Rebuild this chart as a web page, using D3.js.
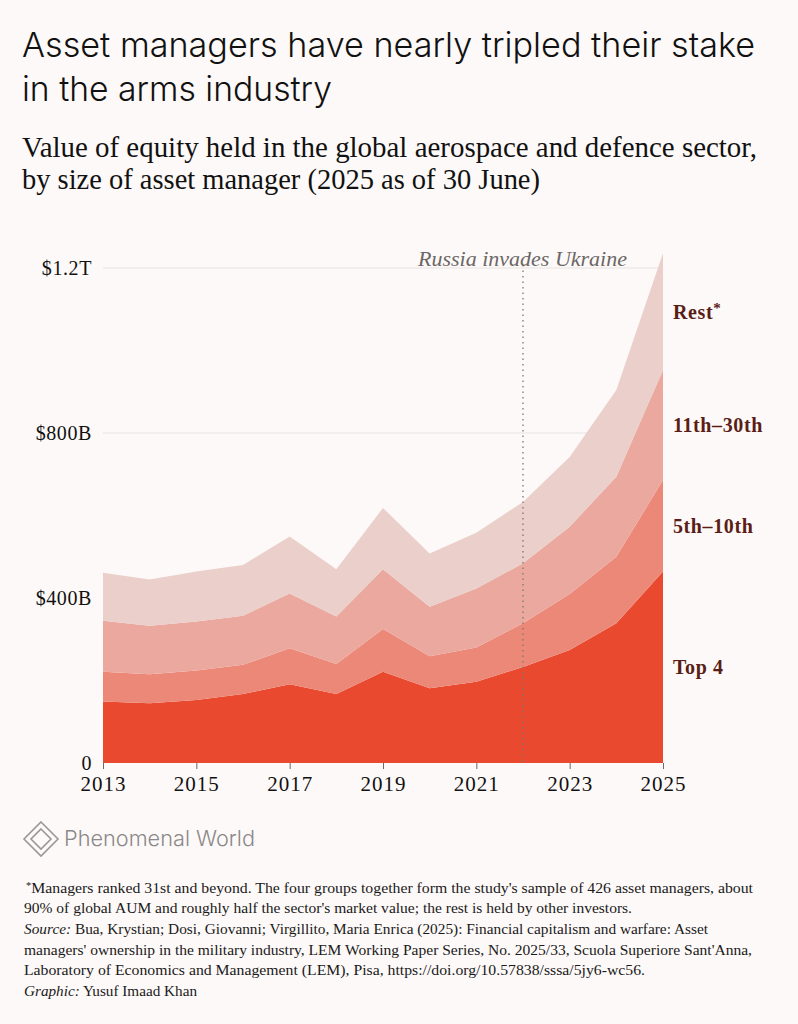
<!DOCTYPE html>
<html>
<head>
<meta charset="utf-8">
<script src="https://cdn.jsdelivr.net/npm/d3@7"></script>
<style>
  html, body { margin: 0; padding: 0; background: #FDF9F8; }
  svg { display: block; }
</style>
</head>
<body>
<svg id="chart" width="798" height="1024"></svg>
<script>
// ---------- DATA ----------
const years = [2013, 2014, 2015, 2016, 2017, 2018, 2019, 2020, 2021, 2022, 2023, 2024, 2025];
const top4 =        [149, 145, 153, 167, 191, 167, 221, 181, 197, 233, 274, 339, 464];
const fifthTenth =  [72, 70, 71, 71, 87, 73, 104, 78, 83, 106, 136, 161, 222];
const eleventhThirtieth = [124, 118, 119, 119, 133, 115, 145, 120, 143, 145, 163, 194, 267];
const rest =        [116, 112, 121, 123, 138, 115, 148, 129, 135, 149, 169, 210, 283];
const seriesKeys = ["top4", "fifthTenth", "eleventhThirtieth", "rest"];
const seriesLabels = ["Top 4", "5th\u201310th", "11th\u201330th", "Rest"];
const seriesColors = ["#E94A2F", "#EC8878", "#EBA89F", "#EACFCA"];
const yTicks = [0, 400, 800, 1200];
const yTickLabels = ["0", "$400B", "$800B", "$1.2T"];
const xTicks = [2013, 2015, 2017, 2019, 2021, 2023, 2025];
const eventYear = 2022;
const eventLabel = "Russia invades Ukraine";

// ---------- SETUP ----------
const svg = d3.select("#chart");
const serif = "'Liberation Serif', 'DejaVu Serif', serif";
const sans = "Inter, 'Noto Sans', sans-serif";

svg.append("rect").attr("width", 798).attr("height", 1024).attr("fill", "#FDF9F8");

// Title
const titleLines = ["Asset managers have nearly tripled their stake", "in the arms industry"];
const titleBase = [57, 101];
const titleWidths = [733, 310];
titleLines.forEach((t, i) => {
  svg.append("text").attr("x", 22).attr("y", titleBase[i])
    .attr("font-family", sans).attr("font-weight", 300).attr("font-size", 34)
    .attr("fill", "#111")
    .attr("textLength", titleWidths[i]).attr("lengthAdjust", "spacingAndGlyphs")
    .text(t);
});

// Subtitle
const subLines = ["Value of equity held in the global aerospace and defence sector,", "by size of asset manager (2025 as of 30 June)"];
const subBase = [157, 189];
const subWidths = [735, 518];
subLines.forEach((t, i) => {
  svg.append("text").attr("x", 22).attr("y", subBase[i])
    .attr("font-family", serif).attr("font-size", 29)
    .attr("fill", "#111")
    .attr("textLength", subWidths[i]).attr("lengthAdjust", "spacingAndGlyphs")
    .text(t);
});

// ---------- CHART ----------
const x = d3.scaleLinear().domain([2013, 2025]).range([103, 663]);
const y = d3.scaleLinear().domain([0, 1200]).range([763, 268]);

const table = years.map((yr, i) => ({
  year: yr, top4: top4[i], fifthTenth: fifthTenth[i],
  eleventhThirtieth: eleventhThirtieth[i], rest: rest[i]
}));
const stacked = d3.stack().keys(seriesKeys)(table);

// gridlines
const gridTicks = yTicks.filter(d => d > 0);
svg.append("g").selectAll("line").data(gridTicks).join("line")
  .attr("x1", x(2013)).attr("x2", x(2025))
  .attr("y1", d => y(d)).attr("y2", d => y(d))
  .attr("stroke", "#E7E3E1").attr("stroke-width", 1);

// areas
const area = d3.area()
  .x(d => x(d.data.year))
  .y0(d => y(d[0]))
  .y1(d => y(d[1]));
svg.append("g").selectAll("path").data(stacked).join("path")
  .attr("d", area)
  .attr("fill", (d, i) => seriesColors[i]);

// event line
svg.append("line")
  .attr("x1", x(eventYear)).attr("x2", x(eventYear))
  .attr("y1", y(1200) - 3).attr("y2", y(0))
  .attr("stroke", "#7a7776").attr("stroke-width", 1.3)
  .attr("stroke-dasharray", "1.5,4");
svg.append("text")
  .attr("x", 627).attr("y", 266)
  .attr("text-anchor", "end")
  .attr("font-family", serif).attr("font-style", "italic")
  .attr("font-size", 21).attr("fill", "#6b6766")
  .attr("textLength", 209).attr("lengthAdjust", "spacingAndGlyphs")
  .text(eventLabel);

// y axis labels
svg.append("g").selectAll("text").data(yTicks).join("text")
  .attr("x", 92).attr("y", d => y(d) + 7)
  .attr("text-anchor", "end")
  .attr("font-family", serif).attr("font-size", 20).attr("fill", "#111")
  .attr("letter-spacing", "0.6px")
  .text((d, i) => yTickLabels[i]);

// x axis
const xAxis = d3.axisBottom(x).tickValues(xTicks).tickFormat(d3.format("d")).tickSize(6).tickPadding(7);
const gx = svg.append("g").attr("transform", `translate(0,${y(0)})`).call(xAxis);
gx.select(".domain").remove();
gx.selectAll(".tick line").attr("stroke", "#6a6a6a").attr("stroke-width", 1);
gx.selectAll(".tick text")
  .attr("font-family", serif).attr("font-size", 21).attr("fill", "#111")
  .attr("letter-spacing", "1px");

// right-hand labels, at band midpoints in 2025
const last = years.length - 1;
const labG = svg.append("g");
stacked.forEach((s, i) => {
  const mid = (s[last][0] + s[last][1]) / 2;
  const t = labG.append("text")
    .attr("x", 673).attr("y", y(mid) + 7)
    .attr("font-family", serif).attr("font-weight", 700)
    .attr("font-size", 20).attr("fill", "#5A1E17")
    .attr("letter-spacing", "0.6px")
    .text(seriesLabels[i]);
  if (seriesKeys[i] === "rest") {
    t.append("tspan").attr("dy", -6).attr("font-size", 15).text("*");
  }
});

// ---------- LOGO ----------
const logo = svg.append("g").attr("transform", "translate(41,839)");
logo.append("path").attr("d", "M0,-17 L17,0 L0,17 L-17,0 Z")
  .attr("fill", "none").attr("stroke", "#9a9897").attr("stroke-width", 1.6);
logo.append("path").attr("d", "M0,-10 L10,0 L0,10 L-10,0 Z")
  .attr("fill", "none").attr("stroke", "#9a9897").attr("stroke-width", 1.6);
svg.append("text").attr("x", 64).attr("y", 846)
  .attr("font-family", sans).attr("font-weight", 300).attr("font-size", 22)
  .attr("fill", "#8a8888")
  .attr("textLength", 191).attr("lengthAdjust", "spacingAndGlyphs")
  .text("Phenomenal World");

// ---------- FOOTNOTES ----------
const fnFont = 15;
const fnColor = "#1a1a1a";
const fn = svg.append("g").attr("font-family", serif).attr("font-size", fnFont).attr("fill", fnColor);

// line 1 with superscript asterisk
const l1 = fn.append("text").attr("x", 26).attr("y", 893);
l1.append("tspan").attr("font-size", 10).attr("dy", -4).text("*");
l1.append("tspan").attr("dy", 4).text("Managers ranked 31st and beyond. The four groups together form the study's sample of 426 asset managers, about");
l1.attr("textLength", 727).attr("lengthAdjust", "spacingAndGlyphs");

fn.append("text").attr("x", 24).attr("y", 913)
  .attr("textLength", 608).attr("lengthAdjust", "spacingAndGlyphs")
  .text("90% of global AUM and roughly half the sector's market value; the rest is held by other investors.");

const l3 = fn.append("text").attr("x", 24).attr("y", 934)
  .attr("textLength", 684).attr("lengthAdjust", "spacingAndGlyphs");
l3.append("tspan").attr("font-style", "italic").text("Source:");
l3.append("tspan").text(" Bua, Krystian; Dosi, Giovanni; Virgillito, Maria Enrica (2025): Financial capitalism and warfare: Asset");

fn.append("text").attr("x", 24).attr("y", 955)
  .attr("textLength", 728).attr("lengthAdjust", "spacingAndGlyphs")
  .text("managers' ownership in the military industry, LEM Working Paper Series, No. 2025/33, Scuola Superiore Sant'Anna,");

fn.append("text").attr("x", 24).attr("y", 975)
  .attr("textLength", 621).attr("lengthAdjust", "spacingAndGlyphs")
  .text("Laboratory of Economics and Management (LEM), Pisa, https://doi.org/10.57838/sssa/5jy6-wc56.");

const l6 = fn.append("text").attr("x", 24).attr("y", 996)
  .attr("textLength", 173).attr("lengthAdjust", "spacingAndGlyphs");
l6.append("tspan").attr("font-style", "italic").text("Graphic:");
l6.append("tspan").text(" Yusuf Imaad Khan");
</script>
</body>
</html>
